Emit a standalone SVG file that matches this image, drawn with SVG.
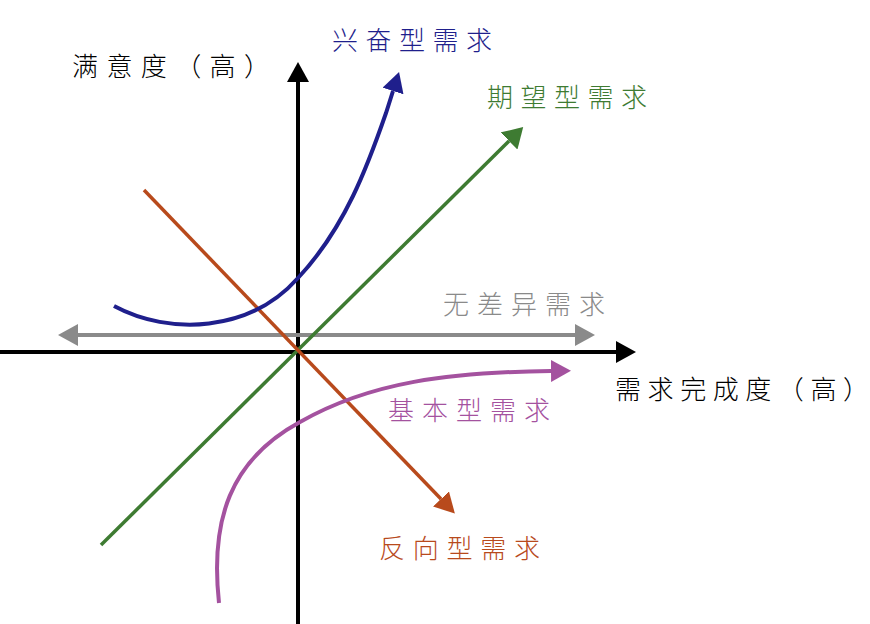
<svg xmlns="http://www.w3.org/2000/svg" width="870" height="624" viewBox="0 0 870 624">
<style>
.lbl{font-family:"Noto Sans CJK SC","Noto Sans CJK JP",sans-serif;font-size:26px;font-weight:300}
.ln{fill:none;stroke-linecap:butt}
</style>
<defs>
<marker id="mk" viewBox="0 0 20 22" refX="0" refY="11" markerWidth="20" markerHeight="22" markerUnits="userSpaceOnUse" orient="auto"><path d="M0,0 L20,11 L0,22 z" fill="#000"/></marker>
<marker id="mg" viewBox="0 0 20 22" refX="0" refY="11" markerWidth="20" markerHeight="22" markerUnits="userSpaceOnUse" orient="auto"><path d="M0,0 L20,11 L0,22 z" fill="#8a8a8a"/></marker>
<marker id="mgs" viewBox="0 0 20 22" refX="0" refY="11" markerWidth="20" markerHeight="22" markerUnits="userSpaceOnUse" orient="auto-start-reverse"><path d="M0,0 L20,11 L0,22 z" fill="#8a8a8a"/></marker>
<marker id="mgr" viewBox="0 0 20 24" refX="0" refY="12" markerWidth="20" markerHeight="24" markerUnits="userSpaceOnUse" orient="auto"><path d="M0,0 L20,12 L0,24 z" fill="#3e7b32"/></marker>
<marker id="mo" viewBox="0 0 20 22" refX="0" refY="11" markerWidth="20" markerHeight="22" markerUnits="userSpaceOnUse" orient="auto"><path d="M0,0 L20,11 L0,22 z" fill="#b84a1c"/></marker>
<marker id="mb" viewBox="0 0 20 22" refX="0" refY="11" markerWidth="20" markerHeight="22" markerUnits="userSpaceOnUse" orient="auto"><path d="M0,0 L20,11 L0,22 z" fill="#1f1f8c"/></marker>
<marker id="mp" viewBox="0 0 20 22" refX="0" refY="11" markerWidth="20" markerHeight="22" markerUnits="userSpaceOnUse" orient="auto"><path d="M0,0 L20,11 L0,22 z" fill="#a4529f"/></marker>
</defs>
<rect width="870" height="624" fill="#fff"/>
<g id="connectors">
<path id="x-axis" class="ln" d="M0,352 L616,352" stroke="#000" stroke-width="4" marker-end="url(#mk)"/>
<path id="y-axis" class="ln" d="M298,624 L298,82" stroke="#000" stroke-width="4" marker-end="url(#mk)"/>
<path id="indifferent" class="ln" d="M78,335 L575,335" stroke="#8a8a8a" stroke-width="4" marker-start="url(#mgs)" marker-end="url(#mg)"/>
<path id="performance" class="ln" d="M101,545 L509,141" stroke="#3e7b32" stroke-width="3.5" marker-end="url(#mgr)"/>
<path id="reverse" class="ln" d="M144,190 L441,499" stroke="#b84a1c" stroke-width="3.5" marker-end="url(#mo)"/>
<path id="excitement" class="ln" d="M114,306 C170,336 250,332 298,278 C345,228 368,165 386,113 L393,91" stroke="#1f1f8c" stroke-width="4" marker-end="url(#mb)"/>
<path id="basic" class="ln" d="M219,603 C210,520 230,460 300,422 C370,382 450,372 551,371" stroke="#a4529f" stroke-width="4" marker-end="url(#mp)"/>
</g>
<g id="label-y"><text class="lbl" x="72" y="76" textLength="198" lengthAdjust="spacing" fill="#000">满意度（高）</text></g>
<g id="label-x"><text class="lbl" x="615" y="399" textLength="254" lengthAdjust="spacing" fill="#000">需求完成度（高）</text></g>
<g id="node-excitement"><text class="lbl" x="332" y="50" textLength="160" lengthAdjust="spacing" fill="#1f1f8c">兴奋型需求</text></g>
<g id="node-performance"><text class="lbl" x="487" y="107" textLength="160" lengthAdjust="spacing" fill="#3e7b32">期望型需求</text></g>
<g id="node-indifferent"><text class="lbl" x="443" y="314" textLength="162" lengthAdjust="spacing" fill="#8a8a8a">无差异需求</text></g>
<g id="node-basic"><text class="lbl" x="388" y="420" textLength="162" lengthAdjust="spacing" fill="#a4529f">基本型需求</text></g>
<g id="node-reverse"><text class="lbl" x="379" y="558" textLength="161" lengthAdjust="spacing" fill="#b84a1c">反向型需求</text></g>
</svg>
